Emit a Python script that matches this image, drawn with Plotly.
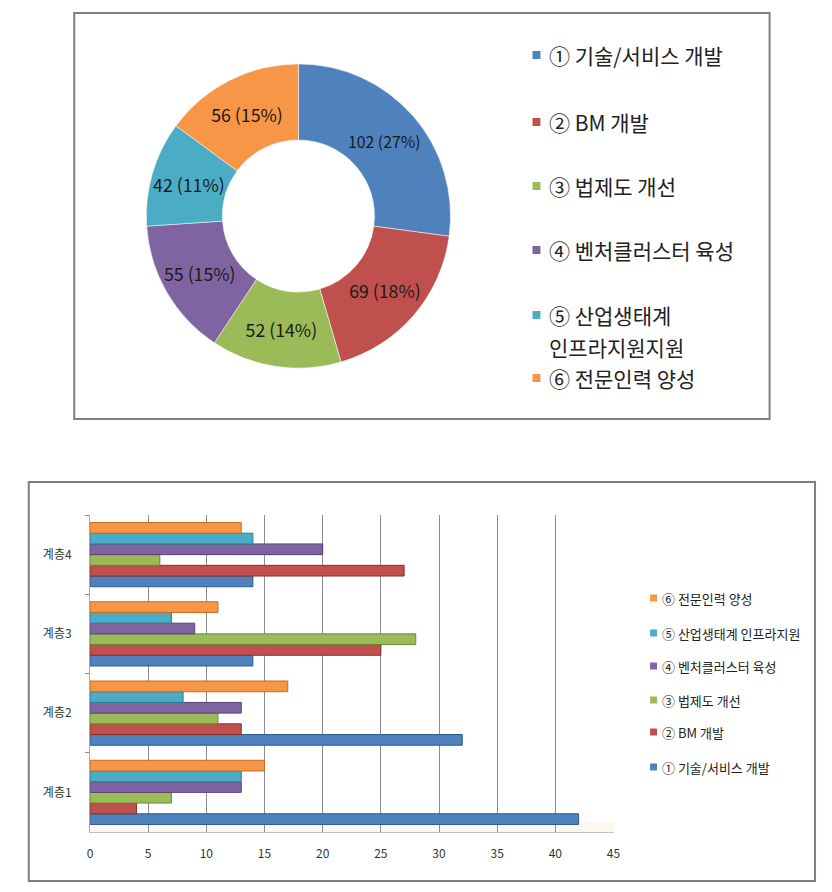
import plotly.graph_objects as go

# page body has an 8px default margin -> compensate
OFF = 8
W, H = 832 - 2 * OFF, 892 - 2 * OFF
FONT = "Noto Sans CJK KR"

# ---------------- data ----------------
series_names = ["① 기술/서비스 개발", "② BM 개발", "③ 법제도 개선",
                "④ 벤처클러스터 육성", "⑤ 산업생태계 인프라지원", "⑥ 전문인력 양성"]
pie_legend_labels = ["① 기술/서비스 개발", "② BM 개발", "③ 법제도 개선",
                     "④ 벤처클러스터 육성", "⑤ 산업생태계<br>인프라지원지원", "⑥ 전문인력 양성"]
pie_values = [102, 69, 52, 55, 42, 56]
colors = ["#4F81BD", "#C0504D", "#9BBB59", "#8064A2", "#4BACC6", "#F79646"]
line_colors = ["#2E5A8E", "#8C2D2A", "#6E8A35", "#57407A", "#2A7F96", "#C86B1E"]

levels = ["계층1", "계층2", "계층3", "계층4"]
val_tech = [42, 32, 14, 14]
val_bm = [4, 13, 25, 27]
val_law = [7, 11, 28, 6]
val_venture = [13, 13, 9, 20]
val_infra = [13, 8, 7, 14]
val_talent = [15, 17, 11, 13]
bar_series = [val_tech, val_bm, val_law, val_venture, val_infra, val_talent]
x_ticks = [0, 5, 10, 15, 20, 25, 30, 35, 40, 45]


def X(px):
    return (px - OFF) / W


def Y(py):
    return 1 - (py - OFF) / H


fig = go.Figure()

# ---------------- donut ----------------
fig.add_trace(go.Pie(
    values=pie_values,
    labels=series_names,
    marker=dict(colors=colors, line=dict(color="rgba(255,255,255,0.5)", width=1)),
    hole=0.5,
    sort=False,
    direction="clockwise",
    rotation=0,
    texttemplate="%{value} (%{percent:.0%})",
    textposition="inside",
    insidetextorientation="horizontal",
    textfont=dict(family=FONT, size=18, color="#1a1a1a"),
    domain=dict(x=[X(145), X(453)], y=[Y(370), Y(62)]),
    showlegend=False,
    hoverinfo="label+value+percent",
))

# ---------------- bars ----------------
for name, vals, c, lc in zip(series_names, bar_series, colors, line_colors):
    fig.add_trace(go.Bar(
        y=levels, x=vals, name=name, orientation="h",
        marker=dict(color=c, line=dict(color=lc, width=1)),
        xaxis="x", yaxis="y", showlegend=False,
    ))

fig.update_layout(
    width=W, height=H,
    margin=dict(l=0, r=0, t=0, b=0),
    paper_bgcolor="white", plot_bgcolor="white",
    barmode="group", bargap=0.19, bargroupgap=0.0,
    font=dict(family=FONT, color="#333333"),
    xaxis=dict(
        domain=[X(88), X(618)], anchor="y",
        range=[0, 45], tickvals=x_ticks, ticktext=[str(t) for t in x_ticks],
        showgrid=True, gridcolor="#8c8c8c", gridwidth=1,
        zeroline=False, showline=True, linecolor="#bfbfbf",
        ticks="", tickfont=dict(family=FONT, size=12, color="#333333"),
        ticklabelstandoff=11,
        fixedrange=True,
    ),
    yaxis=dict(
        domain=[Y(832), Y(515)], anchor="x",
        categoryorder="array", categoryarray=levels,
        showgrid=False, zeroline=False, showline=True, linecolor="#8fb0d0",
        ticks="outside", tickson="boundaries", ticklen=4, tickcolor="#8c8c8c",
        tickfont=dict(family=FONT, size=12, color="#333333"),
        ticklabelstandoff=15,
        fixedrange=True,
    ),
)

shapes = []
annotations = []

# boxes
shapes.append(dict(type="rect", xref="paper", yref="paper",
                   x0=X(72), x1=X(776), y0=Y(419), y1=Y(13),
                   line=dict(color="#7f7f7f", width=2), layer="below"))
shapes.append(dict(type="rect", xref="paper", yref="paper",
                   x0=X(26), x1=X(822), y0=Y(881), y1=Y(482),
                   line=dict(color="#7f7f7f", width=2), layer="below"))
# faint floor of the 3D bar chart
shapes.append(dict(type="rect", xref="paper", yref="paper",
                   x0=X(88), x1=X(618), y0=Y(832), y1=Y(822),
                   fillcolor="#fdf8ee", line=dict(width=0), layer="below"))

# pie legend
pie_rows = [55, 122, 186, 250, 315, 378]
for i, (lab, c) in enumerate(zip(pie_legend_labels, colors)):
    yc = pie_rows[i]
    shapes.append(dict(type="rect", xref="paper", yref="paper",
                       x0=X(536), x1=X(544), y0=Y(yc + 4), y1=Y(yc - 4),
                       fillcolor=c, line=dict(width=0)))
    parts = lab.split("<br>")
    annotations.append(dict(xref="paper", yref="paper", x=X(551), y=Y(yc),
                            text=parts[0], showarrow=False, xanchor="left", yanchor="middle",
                            font=dict(family=FONT, size=21, color="#222222")))
    if len(parts) > 1:
        annotations.append(dict(xref="paper", yref="paper", x=X(551), y=Y(347),
                                text=parts[1], showarrow=False, xanchor="left", yanchor="middle",
                                font=dict(family=FONT, size=21, color="#222222")))

# bar legend (reversed order: ⑥ on top)
bar_rows = [767, 732, 700, 666, 633, 598]
for i, (lab, c) in enumerate(zip(series_names, colors)):
    yc = bar_rows[i]
    shapes.append(dict(type="rect", xref="paper", yref="paper",
                       x0=X(655), x1=X(662), y0=Y(yc + 3.5), y1=Y(yc - 3.5),
                       fillcolor=c, line=dict(width=0)))
    annotations.append(dict(xref="paper", yref="paper", x=X(665), y=Y(yc),
                            text=lab, showarrow=False, xanchor="left", yanchor="middle",
                            font=dict(family=FONT, size=13, color="#222222")))

fig.update_layout(shapes=shapes, annotations=annotations)
fig.write_html("out.html")
